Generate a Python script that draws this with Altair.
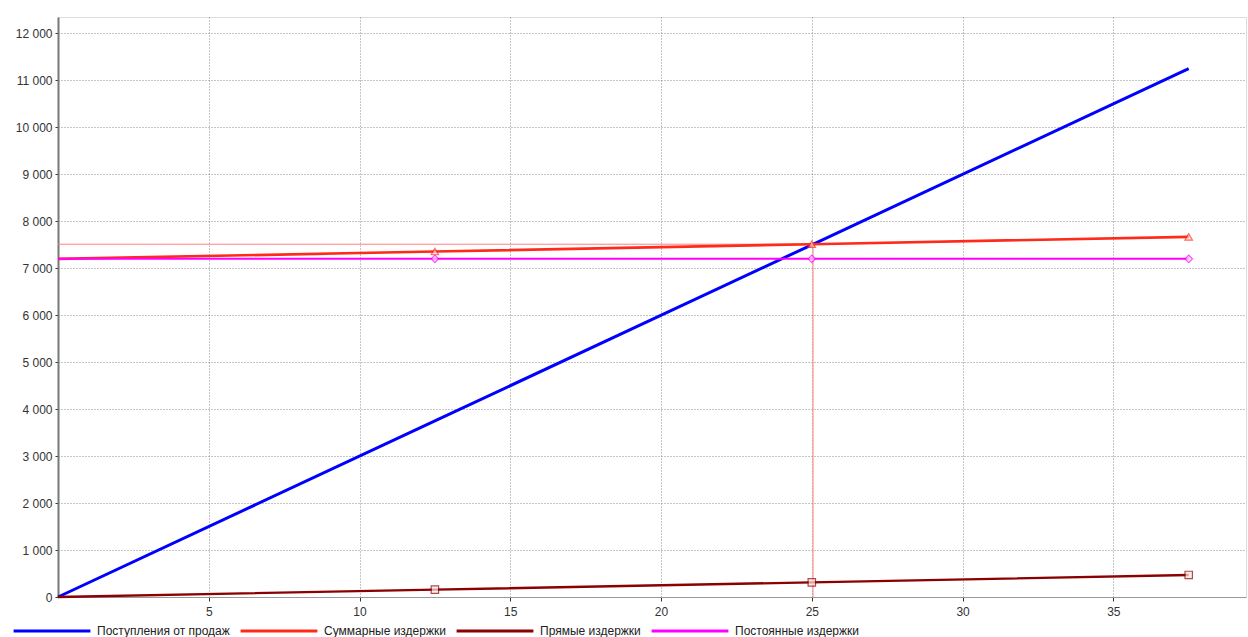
import altair as alt
import pandas as pd

# ---- data ----
series_names = ["Поступления от продаж", "Суммарные издержки", "Прямые издержки", "Постоянные издержки"]
x_vals = [0, 12.5, 25, 37.5]
revenue = [0, 3750, 7500, 11250]
total_costs = [7200, 7356, 7512, 7669]
direct_costs = [0, 156, 312, 469]
fixed_costs = [7200, 7200, 7200, 7200]
marker_x = [12.5, 25, 37.5]
breakeven_x = [0, 25.04, 25.04]
breakeven_y = [7512, 7512, 0]

colors = ["#0000ff", "#ff2a1a", "#8b0000", "#ff00ff"]
widths = [3, 2, 3, 3]

rows = []
for name, vals in zip(series_names, [revenue, total_costs, direct_costs, fixed_costs]):
    for i, (x, y) in enumerate(zip(x_vals, vals)):
        rows.append({"series": name, "x": x, "y": y, "order": i})
df = pd.DataFrame(rows)

mk = df[df["x"].isin(marker_x) & (df["series"] != series_names[0])]
be = pd.DataFrame({"x": breakeven_x, "y": breakeven_y, "order": [0, 1, 2]})

xscale = alt.Scale(domain=[0, 39.4], nice=False, zero=False)
yscale = alt.Scale(domain=[0, 12350], nice=False)

xaxis = alt.Axis(values=[5, 10, 15, 20, 25, 30, 35], title=None, grid=True,
                 gridDash=[1, 2], gridColor="#808080", gridOpacity=0.9,
                 domainColor="#999999", tickColor="#333333", tickSize=4,
                 labelFont="Liberation Sans", labelFontSize=12, labelColor="#333333",
                 labelPadding=5)
yaxis = alt.Axis(values=list(range(0, 12001, 1000)), title=None, grid=True,
                 gridDash=[1, 2], gridColor="#808080", gridOpacity=0.9,
                 domainColor="#777777", domainWidth=2, tickColor="#333333", tickSize=3,
                 labelFont="Liberation Sans", labelFontSize=12, labelColor="#333333",
                 labelPadding=3,
                 labelExpr="replace(format(datum.value, ','), ',', ' ')")

legend = alt.Legend(title=None, orient="none", direction="horizontal",
                    legendX=-46, legendY=574,
                    symbolType="stroke", symbolSize=5900, symbolStrokeWidth=3,
                    labelFont="Liberation Sans", labelFontSize=12,
                    labelColor="#222222", labelOffset=5, columnPadding=4)

beline = alt.Chart(be).mark_line(color="#ff8080", strokeWidth=1).encode(
    x=alt.X("x:Q", scale=xscale, axis=xaxis),
    y=alt.Y("y:Q", scale=yscale, axis=yaxis),
    order="order:Q",
)

lines = alt.Chart(df).mark_line().encode(
    x=alt.X("x:Q", scale=xscale),
    y=alt.Y("y:Q", scale=yscale),
    order="order:Q",
    color=alt.Color("series:N", scale=alt.Scale(domain=series_names, range=colors),
                    sort=series_names, legend=legend),
    strokeWidth=alt.StrokeWidth("series:N", scale=alt.Scale(domain=series_names, range=widths),
                                sort=series_names, legend=None),
)

shape_names = series_names[1:]
points = alt.Chart(mk).mark_point(filled=True, size=55, strokeWidth=1.2).encode(
    x=alt.X("x:Q", scale=xscale),
    y=alt.Y("y:Q", scale=yscale),
    shape=alt.Shape("series:N", scale=alt.Scale(domain=shape_names,
                                                range=["triangle-up", "square", "diamond"]),
                    legend=None),
    stroke=alt.Stroke("series:N", scale=alt.Scale(domain=shape_names,
                                                  range=["#ff2a1a", "#8b0000", "#ff00ff"]),
                      legend=None),
    fill=alt.Fill("series:N", scale=alt.Scale(domain=shape_names,
                                              range=["#ffd8d0", "#ffe4e4", "#ffd8ff"]),
                  legend=None),
)

chart = alt.layer(beline, lines, points).resolve_scale(
    color="independent", stroke="independent", fill="independent", shape="independent"
).properties(
    width=1188, height=580,
    autosize=alt.AutoSizeParams(type="none"),
    padding={"left": 58, "top": 17, "right": 2, "bottom": 40},
).configure_view(stroke=None).configure(background="white")

chart.save("out.html", embed_options={"renderer": "svg", "actions": False})
